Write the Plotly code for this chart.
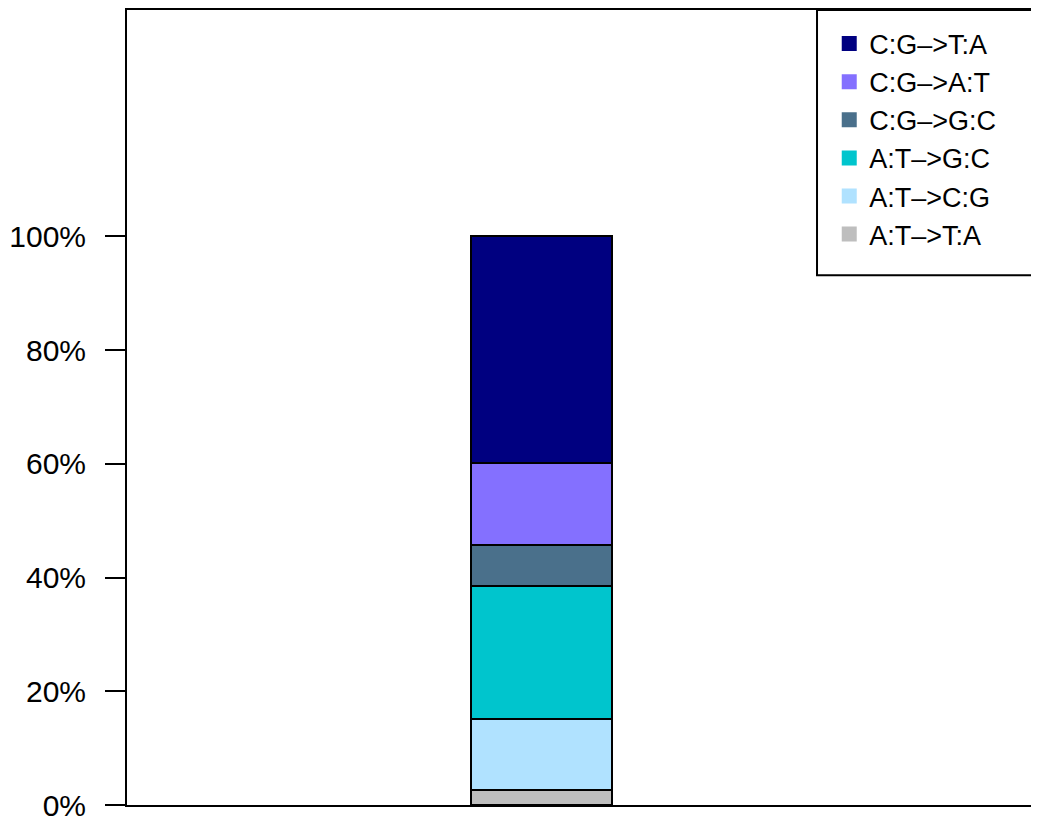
import plotly.graph_objects as go

categories = ["C:G->T:A", "C:G->A:T", "C:G->G:C", "A:T->G:C", "A:T->C:G", "A:T->T:A"]
legend_labels = ["C:G\u2013>T:A", "C:G\u2013>A:T", "C:G\u2013>G:C", "A:T\u2013>G:C", "A:T\u2013>C:G", "A:T\u2013>T:A"]
values = [39.8, 14.4, 7.3, 23.4, 12.5, 2.6]
colors = ["#000080", "#8470FF", "#4A708B", "#00C5CD", "#B0E2FF", "#BEBEBE"]
sample = [0]
tick_vals = [0, 20, 40, 60, 80, 100]
tick_text = ["0%", "20%", "40%", "60%", "80%", "100%"]

fig = go.Figure()

# stacked bars drawn bottom-up
for name, v, c in reversed(list(zip(categories, values, colors))):
    fig.add_trace(go.Bar(
        x=sample, y=[v], name=name, width=1,
        marker=dict(color=c, line=dict(color="black", width=2)),
        showlegend=False,
    ))

# legend entries (plain squares, top to bottom)
for lab, c in zip(legend_labels, colors):
    fig.add_trace(go.Scatter(
        x=[None], y=[None], mode="markers", name=lab,
        marker=dict(symbol="square", size=15, color=c),
    ))

fig.update_layout(
    width=1031, height=814,
    margin=dict(l=119, r=0, t=1, b=16),
    barmode="stack",
    plot_bgcolor="white", paper_bgcolor="white",
    font=dict(family="Liberation Sans, Arial, sans-serif", color="black"),
    xaxis=dict(range=[-2.94, 3.53], showticklabels=False, ticks="",
               showgrid=False, zeroline=False,
               showline=True, linecolor="black", linewidth=2, mirror=True),
    yaxis=dict(range=[0, 139.8], tickmode="array", tickvals=tick_vals, ticktext=tick_text,
               ticks="outside", ticklen=20, tickwidth=2, tickcolor="black",
               ticklabelstandoff=13, ticklabeloverflow="allow",
               tickfont=dict(size=30, color="black"),
               showgrid=False, zeroline=False,
               showline=True, linecolor="black", linewidth=2, mirror=False),
    legend=dict(x=0.770, xanchor="left", y=0.988, yanchor="top",
                bgcolor="rgba(0,0,0,0)", borderwidth=0,
                font=dict(size=27, color="black"),
                traceorder="normal"),
    shapes=[dict(type="rect", xref="paper", yref="paper",
                 x0=0.7566, x1=1.05, y0=0.6662, y1=1.0,
                 line=dict(color="black", width=2), fillcolor="rgba(0,0,0,0)")],
)

fig.write_html("out.html")
